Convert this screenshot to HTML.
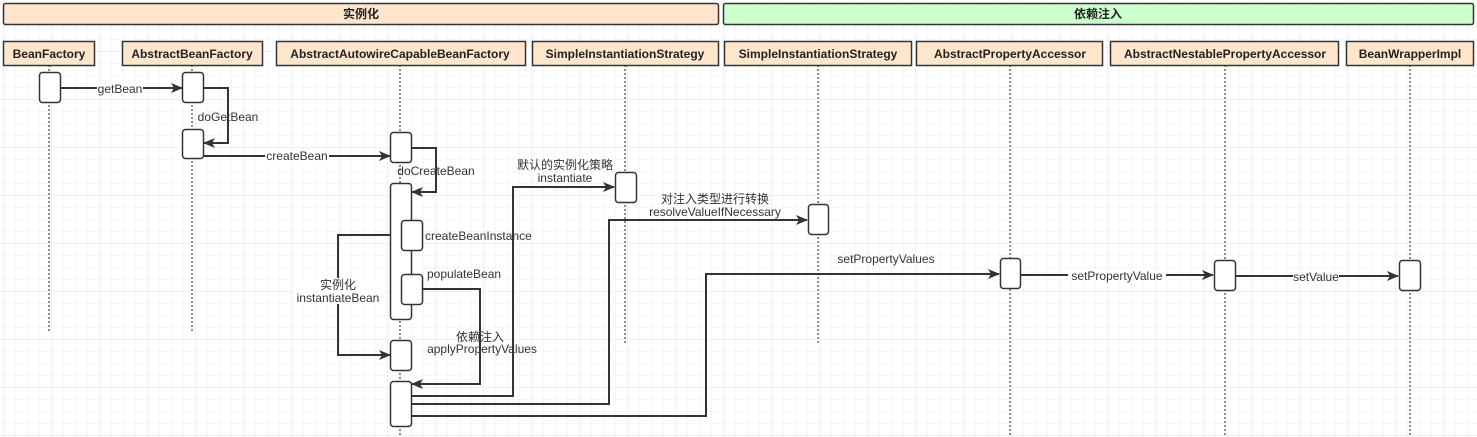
<!DOCTYPE html>
<html><head><meta charset="utf-8"><style>
html,body{margin:0;padding:0;background:#fff}
svg{display:block}
text{font-family:"Liberation Sans","Noto Sans CJK SC",sans-serif;font-size:12px;fill:#333}
.h{font-weight:bold;fill:#222;font-size:12px}
</style></head><body>
<svg width="1477" height="437" viewBox="0 0 1477 437" xmlns="http://www.w3.org/2000/svg">
<defs>
<pattern id="g1" width="12" height="12" patternUnits="userSpaceOnUse" x="4" y="4"><path d="M12 0V12M0 12H12" fill="none" stroke="#efefef" stroke-width="1"/></pattern>
<pattern id="g2" width="48" height="48" patternUnits="userSpaceOnUse" x="4" y="4"><path d="M48 0V48M0 48H48" fill="none" stroke="#e2e2e2" stroke-width="1"/></pattern>
<marker id="a" markerWidth="12" markerHeight="10" refX="11" refY="5" orient="auto" markerUnits="userSpaceOnUse"><path d="M0 0L12 5L0 10L3 5z" fill="#333"/></marker>
</defs>
<rect width="1477" height="437" fill="url(#g1)"/>
<rect width="1477" height="437" fill="url(#g2)"/>

<!-- group bars -->
<rect x="3.5" y="3.5" width="715" height="21" rx="2" fill="#ffe6cc" stroke="#333" stroke-width="1.5"/>
<text x="361" y="18" class="h" text-anchor="middle">实例化</text>
<rect x="723.5" y="3.5" width="750" height="21" rx="2" fill="#ccffcc" stroke="#333" stroke-width="1.5"/>
<text x="1098" y="18" class="h" text-anchor="middle">依赖注入</text>

<!-- lifelines -->
<g stroke="#444" stroke-width="1.2" stroke-dasharray="2,2">
<line x1="49" y1="65" x2="49" y2="332"/>
<line x1="192" y1="65" x2="192" y2="332"/>
<line x1="400" y1="65" x2="400" y2="437"/>
<line x1="625" y1="65" x2="625" y2="343"/>
<line x1="818" y1="65" x2="818" y2="343"/>
<line x1="1010" y1="65" x2="1010" y2="437"/>
<line x1="1225" y1="65" x2="1225" y2="437"/>
<line x1="1410" y1="65" x2="1410" y2="437"/>
</g>

<!-- headers -->
<g fill="#ffe6cc" stroke="#333" stroke-width="1.5">
<rect x="3.5" y="41.5" width="91" height="24"/>
<rect x="122.5" y="41.5" width="140" height="24"/>
<rect x="276.5" y="41.5" width="249" height="24"/>
<rect x="532.5" y="41.5" width="186" height="24"/>
<rect x="724.5" y="41.5" width="187" height="24"/>
<rect x="916.5" y="41.5" width="186" height="24"/>
<rect x="1110.5" y="41.5" width="228" height="24"/>
<rect x="1346.5" y="41.5" width="127" height="24"/>
</g>
<g class="h" text-anchor="middle">
<text class="h" x="49" y="58">BeanFactory</text>
<text class="h" x="192" y="58">AbstractBeanFactory</text>
<text class="h" x="400" y="58">AbstractAutowireCapableBeanFactory</text>
<text class="h" x="625" y="58">SimpleInstantiationStrategy</text>
<text class="h" x="818" y="58">SimpleInstantiationStrategy</text>
<text class="h" x="1010" y="58">AbstractPropertyAccessor</text>
<text class="h" x="1225" y="58">AbstractNestablePropertyAccessor</text>
<text class="h" x="1410" y="58">BeanWrapperImpl</text>
</g>

<!-- connectors -->
<g fill="none" stroke="#333" stroke-width="2">
<line x1="60" y1="88" x2="182" y2="88" marker-end="url(#a)"/>
<polyline points="203,88 228,88 228,143 204,143" marker-end="url(#a)"/>
<line x1="203" y1="156" x2="390" y2="156" marker-end="url(#a)"/>
<polyline points="411,148 436,148 436,192 412,192" marker-end="url(#a)"/>
<polyline points="401,235 338,235 338,355 390,355" marker-end="url(#a)"/>
<polyline points="422,289 480,289 480,384 412,384" marker-end="url(#a)"/>
<polyline points="411,396 513,396 513,187 614,187" marker-end="url(#a)"/>
<polyline points="411,404 609,404 609,220 807,220" marker-end="url(#a)"/>
<polyline points="411,416 706,416 706,274 999,274" marker-end="url(#a)"/>
<line x1="1020" y1="275" x2="1213" y2="275" marker-end="url(#a)"/>
<line x1="1235" y1="276" x2="1398" y2="276" marker-end="url(#a)"/>
</g>

<!-- activations -->
<g fill="#fff" stroke="#333" stroke-width="1.5">
<rect x="39.5" y="72.5" width="21" height="30" rx="3"/>
<rect x="182.5" y="72.5" width="21" height="30" rx="3"/>
<rect x="182.5" y="129.5" width="21" height="29" rx="3"/>
<rect x="390.5" y="132.5" width="21" height="30" rx="3"/>
<rect x="390.5" y="183.5" width="21" height="136" rx="3"/>
<rect x="401.5" y="220.5" width="21" height="30" rx="3"/>
<rect x="401.5" y="274.5" width="21" height="30" rx="3"/>
<rect x="390.5" y="340.5" width="21" height="30" rx="3"/>
<rect x="390.5" y="381.5" width="21" height="45" rx="3"/>
<rect x="615.5" y="172.5" width="21" height="30" rx="3"/>
<rect x="808.5" y="204.5" width="20" height="30" rx="3"/>
<rect x="1000.5" y="258.5" width="20" height="30" rx="3"/>
<rect x="1214.5" y="260.5" width="21" height="30" rx="3"/>
<rect x="1399.5" y="260.5" width="21" height="30" rx="3"/>
</g>

<!-- labels -->
<g text-anchor="middle">
<rect x="97" y="82" width="46" height="13" fill="#fff"/>
<text x="120" y="93">getBean</text>
<text x="228" y="121">doGetBean</text>
<rect x="265" y="150" width="64" height="13" fill="#fff"/>
<text x="297" y="160">createBean</text>
<text x="436" y="175">doCreateBean</text>
<text x="565" y="169">默认的实例化策略</text>
<text x="565" y="182">instantiate</text>
<text x="715" y="203">对注入类型进行转换</text>
<text x="715" y="216">resolveValueIfNecessary</text>
<rect x="294" y="278" width="90" height="26" fill="#fff"/>
<text x="338" y="289">实例化</text>
<text x="338" y="302">instantiateBean</text>
<text x="480" y="341">依赖注入</text>
<text x="482" y="353">applyPropertyValues</text>
<text x="886" y="263">setPropertyValues</text>
<rect x="1068" y="269" width="98" height="13" fill="#fff"/>
<text x="1117" y="280">setPropertyValue</text>
<rect x="1293" y="270" width="46" height="13" fill="#fff"/>
<text x="1316" y="281">setValue</text>
</g>
<g>
<text x="425" y="240">createBeanInstance</text>
<text x="427" y="278">populateBean</text>
</g>
</svg>
</body></html>
